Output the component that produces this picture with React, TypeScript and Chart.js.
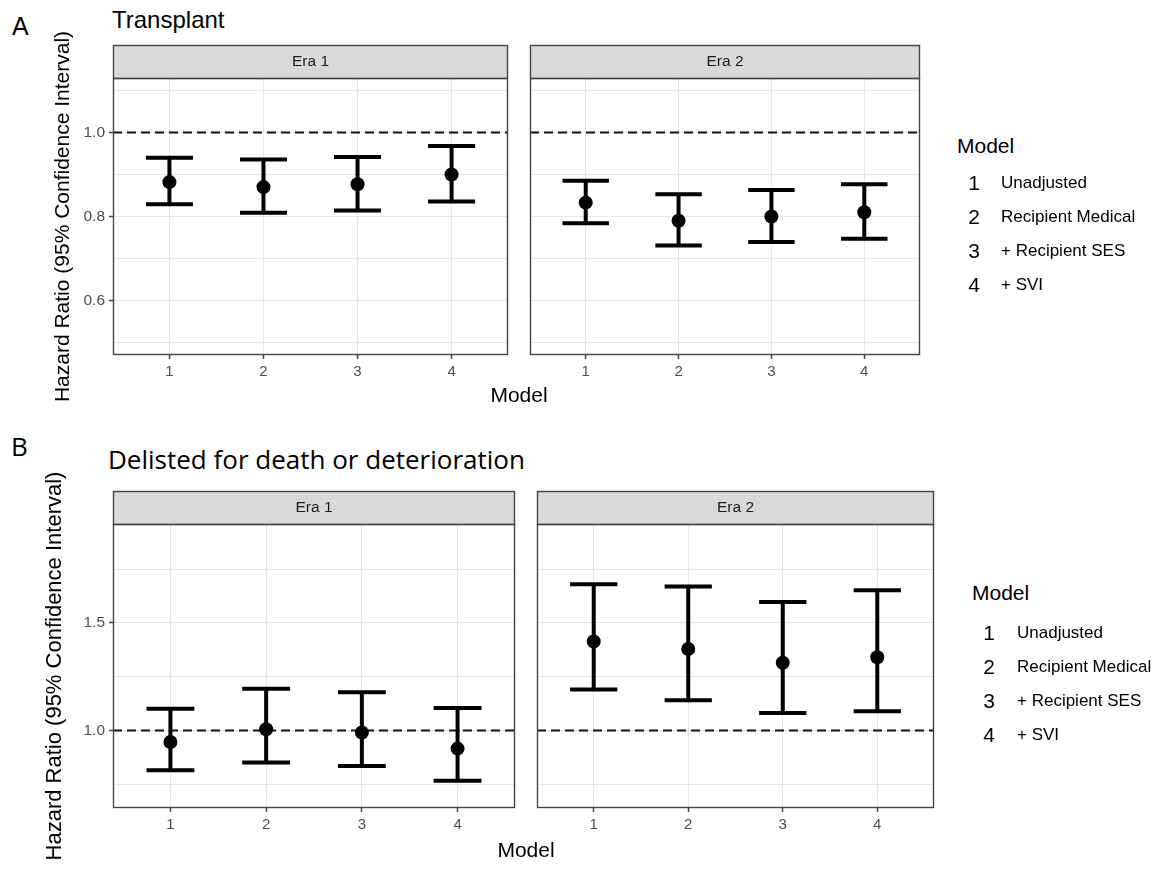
import React, { useEffect, useRef } from 'react';
import { Chart, registerables } from 'chart.js';

Chart.register(...registerables);

const SANS = '"Liberation Sans", Arial, Helvetica, sans-serif';
const HUMANIST = '"Open Sans", "Noto Sans", sans-serif';
Chart.defaults.font.family = SANS;

// ---------------- data ----------------
const models = [1, 2, 3, 4];
const modelLabels = ['Unadjusted', 'Recipient Medical', '+ Recipient SES', '+ SVI'];
const eras = ['Era 1', 'Era 2'];
const modelAxisRange = [0.4, 4.6];
const referenceHR = 1;

// Panel A: Transplant
const transplantEra1HR = [0.882, 0.870, 0.877, 0.900];
const transplantEra1Lower = [0.829, 0.809, 0.814, 0.836];
const transplantEra1Upper = [0.940, 0.936, 0.942, 0.968];
const transplantEra2HR = [0.833, 0.790, 0.800, 0.810];
const transplantEra2Lower = [0.784, 0.731, 0.739, 0.747];
const transplantEra2Upper = [0.885, 0.853, 0.863, 0.877];
const transplantYRange = [0.47, 1.13];
const transplantYTicks = [0.5, 0.6, 0.7, 0.8, 0.9, 1.0, 1.1];
const transplantYMajor = [0.6, 0.8, 1.0];

// Panel B: Delisted for death or deterioration
const delistEra1HR = [0.947, 1.006, 0.991, 0.916];
const delistEra1Lower = [0.815, 0.851, 0.835, 0.767];
const delistEra1Upper = [1.101, 1.194, 1.178, 1.105];
const delistEra2HR = [1.414, 1.379, 1.315, 1.341];
const delistEra2Lower = [1.191, 1.141, 1.081, 1.090];
const delistEra2Upper = [1.680, 1.669, 1.598, 1.652];
const delistYRange = [0.64, 1.96];
const delistYTicks = [0.75, 1.0, 1.25, 1.5, 1.75];
const delistYMajor = [1.0, 1.5];

const yAxisTitle = 'Hazard Ratio (95% Confidence Interval)';

// ---------------- plugins ----------------
const errorBarPlugin = {
  id: 'errorBars',
  afterDatasetsDraw(chart: any, _args: any, opts: any) {
    const { ctx, scales } = chart;
    const xs = scales.x;
    const ys = scales.y;
    ctx.save();
    ctx.strokeStyle = opts.color;
    ctx.lineWidth = opts.width;
    ctx.lineCap = 'butt';
    opts.x.forEach((v: number, i: number) => {
      const px = xs.getPixelForValue(v);
      const l = xs.getPixelForValue(v - opts.cap);
      const r = xs.getPixelForValue(v + opts.cap);
      const t = ys.getPixelForValue(opts.upper[i]);
      const b = ys.getPixelForValue(opts.lower[i]);
      ctx.beginPath();
      ctx.moveTo(px, t);
      ctx.lineTo(px, b);
      ctx.moveTo(l, t);
      ctx.lineTo(r, t);
      ctx.moveTo(l, b);
      ctx.lineTo(r, b);
      ctx.stroke();
    });
    ctx.restore();
  },
};

const facetPlugin = {
  id: 'facetFrame',
  beforeDraw(chart: any, _args: any, opts: any) {
    const { ctx, chartArea: ca } = chart;
    ctx.save();
    ctx.fillStyle = opts.stripFill;
    ctx.fillRect(ca.left, ca.top - opts.stripHeight, ca.right - ca.left, opts.stripHeight);
    ctx.restore();
  },
  afterDraw(chart: any, _args: any, opts: any) {
    const { ctx, chartArea: ca } = chart;
    ctx.save();
    ctx.strokeStyle = opts.border;
    ctx.lineWidth = 1.4;
    const w = ca.right - ca.left - 1;
    ctx.strokeRect(ca.left + 0.5, ca.top - opts.stripHeight + 0.5, w, opts.stripHeight);
    ctx.strokeRect(ca.left + 0.5, ca.top + 0.5, w, ca.bottom - ca.top - 1);
    ctx.restore();
  },
};

// ---------------- panel ----------------
type Spec = {
  era: string;
  plotLeft: number;
  plotTop: number;
  plotW: number;
  plotH: number;
  stripH: number;
  padTop: number;
  xAxisH: number;
  yAxisW: number;
  showY: boolean;
  yRange: number[];
  yTicks: number[];
  yMajor: number[];
  hr: number[];
  lower: number[];
  upper: number[];
  titleSize: number;
  titlePad: number;
};

const PAD_RIGHT = 2;

function FacetPanel({ spec }: { spec: Spec }) {
  const ref = useRef<HTMLCanvasElement | null>(null);
  const width = spec.yAxisW + spec.plotW + PAD_RIGHT;
  const height = spec.padTop + spec.stripH + spec.plotH + spec.xAxisH;
  const left = spec.plotLeft - spec.yAxisW;
  const top = spec.plotTop - spec.stripH - spec.padTop;

  useEffect(() => {
    if (!ref.current) return;
    const isMajor = (v: number) => spec.yMajor.some((m) => Math.abs(m - v) < 1e-9);
    const chart = new Chart(ref.current, {
      type: 'scatter',
      data: {
        datasets: [
          {
            data: models.map((m, i) => ({ x: m, y: spec.hr[i] })),
            pointRadius: 7,
            pointHoverRadius: 7,
            backgroundColor: '#000',
            borderColor: '#000',
            borderWidth: 0,
          },
          {
            data: modelAxisRange.map((x) => ({ x, y: referenceHR })),
            showLine: true,
            borderColor: '#111',
            borderWidth: 2,
            borderDash: [9, 5],
            pointRadius: 0,
            pointHoverRadius: 0,
          } as any,
        ],
      },
      options: {
        animation: false,
        responsive: false,
        devicePixelRatio: 1,
        events: [],
        layout: { padding: { top: spec.padTop, right: PAD_RIGHT, left: 0, bottom: 0 } },
        plugins: {
          legend: { display: false },
          tooltip: { enabled: false },
          title: {
            display: true,
            text: spec.era,
            fullSize: false,
            color: '#1a1a1a',
            font: { family: SANS, size: 15.5, weight: 'normal', lineHeight: 1.2 },
            padding: { top: (spec.stripH - 18.6) / 2, bottom: (spec.stripH - 18.6) / 2 },
          },
          errorBars: {
            x: models,
            lower: spec.lower,
            upper: spec.upper,
            cap: 0.25,
            width: 4,
            color: '#000',
          },
          facetFrame: { stripHeight: spec.stripH, stripFill: '#d9d9d9', border: '#444' },
        } as any,
        scales: {
          x: {
            type: 'linear',
            min: modelAxisRange[0],
            max: modelAxisRange[1],
            afterBuildTicks: (s: any) => {
              s.ticks = models.map((v) => ({ value: v }));
            },
            afterFit: (s: any) => {
              s.height = spec.xAxisH;
            },
            grid: { color: '#e6e6e6', lineWidth: 1, tickColor: '#444', tickLength: 4, tickWidth: 1.5 },
            border: { display: false },
            ticks: {
              color: '#4d4d4d',
              font: { family: SANS, size: 15 },
              padding: 4,
              maxRotation: 0,
              autoSkip: false,
              callback: (v: any) => String(v),
            },
          },
          y: {
            type: 'linear',
            min: spec.yRange[0],
            max: spec.yRange[1],
            afterBuildTicks: (s: any) => {
              s.ticks = spec.yTicks.map((v) => ({ value: v }));
            },
            afterFit: (s: any) => {
              s.width = spec.yAxisW;
            },
            grid: {
              color: '#e6e6e6',
              lineWidth: 1,
              drawTicks: spec.showY,
              tickLength: 4,
              tickWidth: 1.5,
              tickColor: (c: any) => (c.tick && isMajor(c.tick.value) ? '#444' : 'rgba(0,0,0,0)'),
            },
            border: { display: false },
            ticks: {
              display: spec.showY,
              color: '#4d4d4d',
              font: { family: SANS, size: 15.5 },
              padding: 4,
              callback: (v: any) => (isMajor(Number(v)) ? Number(v).toFixed(1) : ''),
            },
            title: {
              display: spec.showY,
              text: yAxisTitle,
              color: '#000',
              font: { family: SANS, size: spec.titleSize, lineHeight: 1.2 },
              padding: { top: spec.titlePad, bottom: 0 },
            },
          },
        },
      } as any,
      plugins: [errorBarPlugin, facetPlugin] as any,
    });
    return () => chart.destroy();
  }, []);

  return (
    <canvas
      ref={ref}
      width={width}
      height={height}
      style={{ position: 'absolute', left, top, width, height }}
    />
  );
}

// ---------------- text helpers ----------------
const ARIAL_BASE = 0.8465;
const OPEN_BASE = 0.888;

function Txt(props: {
  text: string;
  x: number;
  baseline: number;
  size: number;
  family?: string;
  align?: 'left' | 'center';
  color?: string;
  base?: number;
}) {
  const { text, x, baseline, size, family = SANS, align = 'left', color = '#000', base = ARIAL_BASE } = props;
  const top = baseline - base * size;
  const style: React.CSSProperties = {
    position: 'absolute',
    top,
    fontFamily: family,
    fontSize: size,
    lineHeight: `${size}px`,
    color,
    whiteSpace: 'nowrap',
  };
  if (align === 'center') {
    style.left = x - 200;
    style.width = 400;
    style.textAlign = 'center';
  } else {
    style.left = x;
  }
  return <div style={style}>{text}</div>;
}

function Legend(props: { titleX: number; titleBase: number; keyX: number; labelX: number; rowBases: number[] }) {
  const { titleX, titleBase, keyX, labelX, rowBases } = props;
  return (
    <>
      <Txt text="Model" x={titleX} baseline={titleBase} size={21} />
      {models.map((m, i) => (
        <React.Fragment key={m}>
          <Txt text={String(m)} x={keyX} baseline={rowBases[i]} size={21} align="center" />
          <Txt text={modelLabels[i]} x={labelX} baseline={rowBases[i] - 1.5} size={17} />
        </React.Fragment>
      ))}
    </>
  );
}

// ---------------- app ----------------
const rowA = { plotTop: 78, plotH: 277, stripH: 33, padTop: 25, xAxisH: 55, yRange: transplantYRange, yTicks: transplantYTicks, yMajor: transplantYMajor };
const rowB = { plotTop: 524, plotH: 284, stripH: 33, padTop: 29, xAxisH: 62, yRange: delistYRange, yTicks: delistYTicks, yMajor: delistYMajor };

const specs: Spec[] = [
  { ...rowA, era: eras[0], plotLeft: 113, plotW: 400, yAxisW: 73, showY: true, hr: transplantEra1HR, lower: transplantEra1Lower, upper: transplantEra1Upper, titleSize: 21, titlePad: 10.4 },
  { ...rowA, era: eras[1], plotLeft: 525, plotW: 400, yAxisW: 2, showY: false, hr: transplantEra2HR, lower: transplantEra2Lower, upper: transplantEra2Upper, titleSize: 21, titlePad: 0 },
  { ...rowB, era: eras[0], plotLeft: 113, plotW: 407, yAxisW: 73, showY: true, hr: delistEra1HR, lower: delistEra1Lower, upper: delistEra1Upper, titleSize: 22, titlePad: 1.8 },
  { ...rowB, era: eras[1], plotLeft: 532, plotW: 407, yAxisW: 2, showY: false, hr: delistEra2HR, lower: delistEra2Lower, upper: delistEra2Upper, titleSize: 22, titlePad: 0 },
];

export default function App() {
  return (
    <div
      style={{
        position: 'absolute',
        left: 0,
        top: 0,
        width: 1167,
        height: 871,
        background: '#fff',
        overflow: 'hidden',
      }}
    >
      <Txt text="A" x={12} baseline={35} size={25} />
      <Txt text="Transplant" x={112} baseline={28} size={24} />
      <Txt text="B" x={11} baseline={456} size={26} family={HUMANIST} base={OPEN_BASE} />
      <Txt text="Delisted for death or deterioration" x={108} baseline={469} size={26} family={HUMANIST} base={OPEN_BASE} />

      {specs.map((s, i) => (
        <FacetPanel key={i} spec={s} />
      ))}

      <Txt text="Model" x={519} baseline={402} size={21} align="center" />
      <Txt text="Model" x={526} baseline={857} size={21} align="center" />

      <Legend titleX={957} titleBase={153} keyX={974} labelX={1001} rowBases={[190, 224, 258, 292]} />
      <Legend titleX={972} titleBase={600} keyX={989} labelX={1017} rowBases={[640, 674, 708, 742]} />
    </div>
  );
}
